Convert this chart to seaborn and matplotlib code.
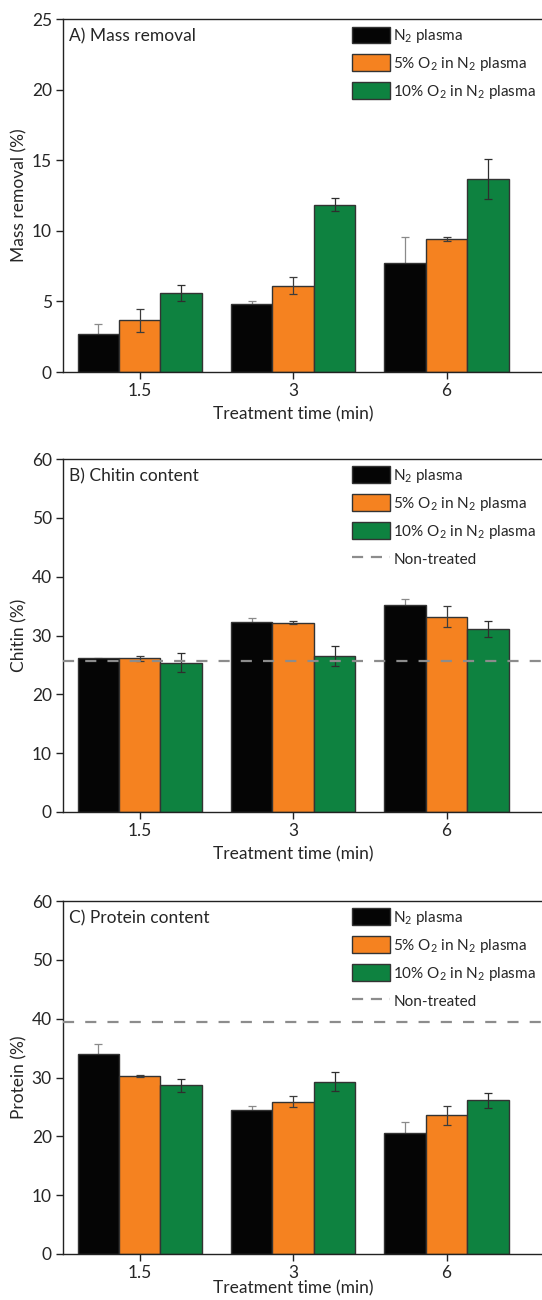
import numpy as np
import pandas as pd
import seaborn as sns
import matplotlib.pyplot as plt
from matplotlib.patches import Patch
from matplotlib.lines import Line2D

sns.set_style('ticks')
plt.rcParams['font.family'] = ['Lato', 'DejaVu Sans']
plt.rcParams['mathtext.fontset'] = 'custom'
plt.rcParams['mathtext.rm'] = 'Lato'

times = ['1.5', '3', '6']
series = [r'N$_\mathregular{2}$ plasma',
          r'5% O$_\mathregular{2}$ in N$_\mathregular{2}$ plasma',
          r'10% O$_\mathregular{2}$ in N$_\mathregular{2}$ plasma']
colors = ['#050505', '#f58220', '#0e8240']
err_colors = ['#8a8a8a', '#3c3c3c', '#2e2e2e']

# values per series, in time order 1.5, 3, 6
mass_n2 = [2.73, 4.81, 7.69]
mass_o5 = [3.66, 6.11, 9.42]
mass_o10 = [5.60, 11.85, 13.69]
mass_n2_sd = [0.70, 0.24, 1.90]
mass_o5_sd = [0.80, 0.60, 0.12]
mass_o10_sd = [0.60, 0.45, 1.40]

chitin_n2 = [26.1, 32.3, 35.2]
chitin_o5 = [26.1, 32.2, 33.2]
chitin_o10 = [25.4, 26.6, 31.1]
chitin_n2_sd = [0.1, 0.6, 1.0]
chitin_o5_sd = [0.5, 0.3, 1.75]
chitin_o10_sd = [1.6, 1.7, 1.4]
chitin_ref = 25.7

protein_n2 = [33.95, 24.4, 20.6]
protein_o5 = [30.26, 25.9, 23.6]
protein_o10 = [28.7, 29.3, 26.1]
protein_n2_sd = [1.75, 0.7, 1.8]
protein_o5_sd = [0.2, 0.95, 1.6]
protein_o10_sd = [1.1, 1.6, 1.2]
protein_ref = 39.4

panels = [
    ('A) Mass removal', 'Mass removal (%)', [mass_n2, mass_o5, mass_o10],
     [mass_n2_sd, mass_o5_sd, mass_o10_sd], None, 25, 5),
    ('B) Chitin content', 'Chitin (%)', [chitin_n2, chitin_o5, chitin_o10],
     [chitin_n2_sd, chitin_o5_sd, chitin_o10_sd], chitin_ref, 60, 10),
    ('C) Protein content', 'Protein (%)', [protein_n2, protein_o5, protein_o10],
     [protein_n2_sd, protein_o5_sd, protein_o10_sd], protein_ref, 60, 10),
]

fig = plt.figure(figsize=(5.42, 13), dpi=100)
bottoms = [0.7138, 0.3754, 0.0354]
label_y = [-0.098, -0.098, -0.074]

for (title, ylabel, vals, sds, ref, ymax, step), b, ly in zip(panels, bottoms, label_y):
    ax = fig.add_axes([0.1162, b, 0.906, 0.2715])
    df = pd.DataFrame({
        'time': times * 3,
        'group': np.repeat(series, 3),
        'value': np.concatenate(vals),
    })
    sns.barplot(data=df, x='time', y='value', hue='group', order=times,
                hue_order=series, palette=colors, width=0.81, gap=0,
                edgecolor='#333333', linewidth=1.0, errorbar=None,
                saturation=1, legend=False, ax=ax)
    for i, (cont, sd, ec) in enumerate(zip(ax.containers, sds, err_colors)):
        xs = [p.get_x() + p.get_width() / 2 for p in cont]
        hs = [p.get_height() for p in cont]
        # black bars hide the lower half of their error bars
        z = 0.5 if i == 0 else 3
        ax.errorbar(xs, hs, yerr=sd, fmt='none', ecolor=ec, elinewidth=0.9,
                    capsize=3, capthick=0.9, zorder=z)
    handles = [Patch(facecolor=c, edgecolor='#333333', linewidth=1.0)
               for c in colors]
    labels = list(series)
    if ref is not None:
        ax.axhline(ref, color='#8c8c8c', lw=1.6, dashes=(5, 5), zorder=4)
        handles.append(Line2D([], [], color='#8c8c8c', lw=1.6, dashes=(5, 3.5)))
        labels.append('Non-treated')
    ax.legend(handles, labels, loc='upper left', bbox_to_anchor=(0.589, 0.979),
              frameon=False, fontsize=11, handlelength=2.5, handleheight=1.3,
              labelspacing=0.62, handletextpad=0.2, borderpad=0, borderaxespad=0)
    ax.text(0.012, 0.975, title, transform=ax.transAxes, ha='left', va='top',
            fontsize=12.5)
    ax.set_xlim(-0.5, 2.7)
    ax.set_ylim(0, ymax)
    ax.set_yticks(np.arange(0, ymax + 1, step))
    ax.set_xlabel('Treatment time (min)', fontsize=12.5, labelpad=1)
    ax.xaxis.set_label_coords(1.5 / 3.2, ly)
    ax.set_ylabel(ylabel, fontsize=12.5, labelpad=3)
    ax.tick_params(axis='both', labelsize=12.5, length=5, width=1,
                   color='#222222', direction='out', pad=3)
    for s in ['left', 'bottom', 'top']:
        ax.spines[s].set_color('#222222')
        ax.spines[s].set_linewidth(1.0)
    ax.spines['right'].set_visible(False)

fig.savefig('out.png', dpi=100)
